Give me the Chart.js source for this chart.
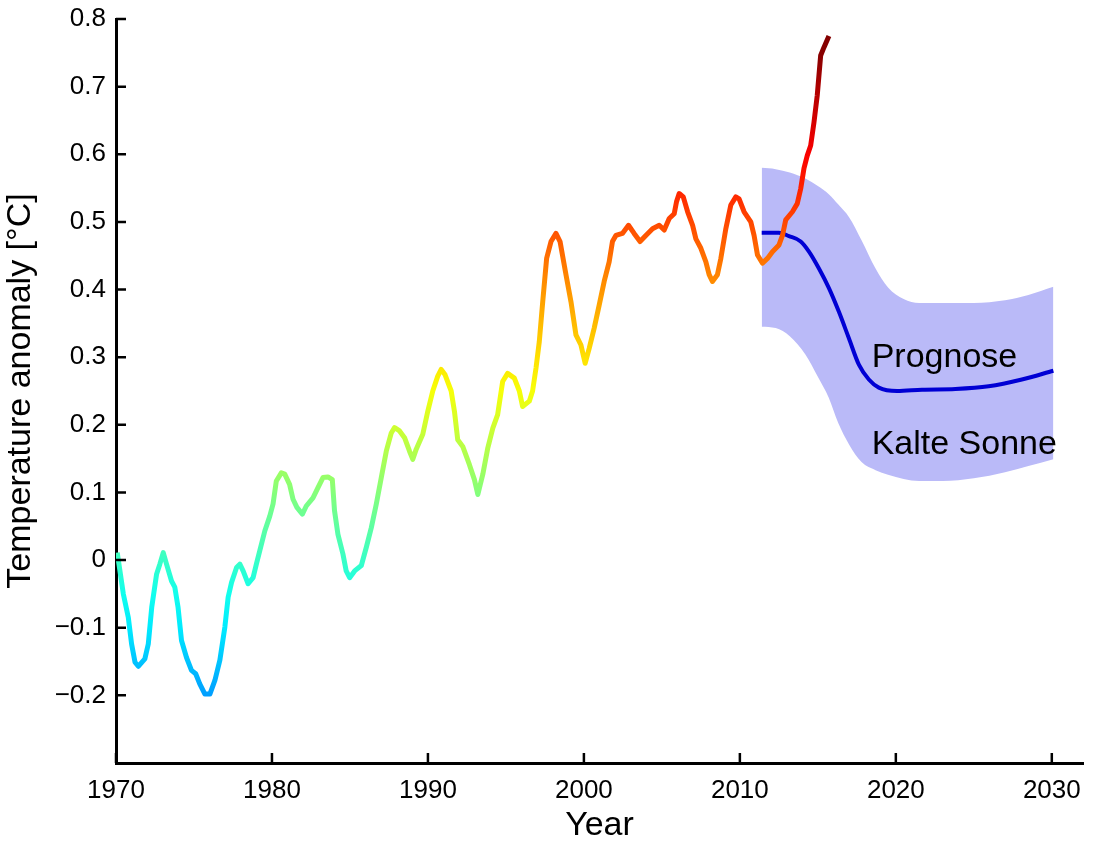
<!DOCTYPE html>
<html>
<head>
<meta charset="utf-8">
<script src="https://cdn.jsdelivr.net/npm/chart.js@4.4.1/dist/chart.umd.min.js"></script>
<style>
    html, body { margin: 0; padding: 0; background: #fff; }
    #wrap { width: 1095px; height: 846px; }
</style>
</head>
<body>
<div id="wrap"><canvas id="tempChart"></canvas></div>
<script>
const tempYears = [
    1970.08, 1970.47, 1970.79, 1971.0, 1971.22, 1971.43, 1971.85, 1972.07, 1972.29, 1972.6,
    1972.81, 1973.03, 1973.24, 1973.56, 1973.77, 1973.98, 1974.2, 1974.52, 1974.84, 1975.11,
    1975.37, 1975.7, 1976.02, 1976.34, 1976.66, 1976.98, 1977.19, 1977.41, 1977.73, 1977.94,
    1978.15, 1978.47, 1978.79, 1979.0, 1979.22, 1979.54, 1979.86, 1980.07, 1980.28, 1980.6,
    1980.82, 1981.13, 1981.35, 1981.6, 1981.95, 1982.2, 1982.63, 1982.95, 1983.27, 1983.59,
    1983.87, 1984.01, 1984.23, 1984.55, 1984.76, 1984.98, 1985.3, 1985.73, 1986.05, 1986.37,
    1986.69, 1987.01, 1987.33, 1987.65, 1987.86, 1988.18, 1988.5, 1988.82, 1989.03, 1989.25,
    1989.67, 1989.99, 1990.31, 1990.63, 1990.85, 1991.1, 1991.49, 1991.7, 1991.91, 1992.23,
    1992.66, 1992.98, 1993.2, 1993.52, 1993.84, 1994.16, 1994.47, 1994.79, 1995.11, 1995.54,
    1995.86, 1996.07, 1996.5, 1996.71, 1996.93, 1997.14, 1997.36, 1997.61, 1997.89, 1998.21,
    1998.47, 1998.85, 1999.17, 1999.49, 1999.81, 2000.08, 2000.34, 2000.66, 2000.98, 2001.3,
    2001.62, 2001.83, 2002.05, 2002.47, 2002.86, 2003.22, 2003.6, 2003.97, 2004.4, 2004.83,
    2005.15, 2005.47, 2005.79, 2005.94, 2006.11, 2006.37, 2006.65, 2006.97, 2007.18, 2007.5,
    2007.82, 2008.03, 2008.24, 2008.56, 2008.78, 2009.1, 2009.42, 2009.74, 2009.95, 2010.27,
    2010.7, 2010.91, 2011.13, 2011.45, 2011.77, 2012.09, 2012.51, 2012.73, 2012.94, 2013.37,
    2013.68, 2013.9, 2014.11, 2014.32, 2014.54, 2014.75, 2014.96, 2015.18, 2015.39, 2015.71,
];
const tempValues = [
    0.011, -0.05, -0.085, -0.124, -0.151, -0.157, -0.146, -0.124, -0.07, -0.021,
    -0.006, 0.011, -0.006, -0.031, -0.04, -0.07, -0.119, -0.144, -0.163, -0.168,
    -0.183, -0.198, -0.198, -0.178, -0.148, -0.099, -0.055, -0.033, -0.011, -0.006,
    -0.016, -0.035, -0.026, -0.006, 0.014, 0.043, 0.065, 0.083, 0.117, 0.129,
    0.127, 0.112, 0.09, 0.078, 0.068, 0.08, 0.092, 0.107, 0.122, 0.123,
    0.119, 0.073, 0.038, 0.009, -0.016, -0.026, -0.016, -0.008, 0.019, 0.048,
    0.083, 0.122, 0.161, 0.188, 0.196, 0.191, 0.181, 0.161, 0.149, 0.164,
    0.186, 0.22, 0.25, 0.272, 0.282, 0.274, 0.25, 0.22, 0.178, 0.168,
    0.141, 0.119, 0.097, 0.127, 0.166, 0.195, 0.215, 0.264, 0.276, 0.269,
    0.25, 0.227, 0.235, 0.25, 0.284, 0.323, 0.382, 0.446, 0.471, 0.483,
    0.471, 0.422, 0.382, 0.333, 0.318, 0.291, 0.313, 0.343, 0.377, 0.412,
    0.441, 0.471, 0.48, 0.483, 0.495, 0.483, 0.471, 0.48, 0.49, 0.495,
    0.488, 0.505, 0.512, 0.53, 0.542, 0.537, 0.515, 0.495, 0.475, 0.461,
    0.441, 0.422, 0.412, 0.422, 0.446, 0.49, 0.525, 0.537, 0.534, 0.515,
    0.5, 0.48, 0.451, 0.439, 0.446, 0.456, 0.466, 0.48, 0.503, 0.515,
    0.527, 0.549, 0.579, 0.598, 0.613, 0.647, 0.687, 0.746, 0.758, 0.775,
];

// "Kalte Sonne" forecast
const progYears = [
    2011.4, 2012.5, 2013.15, 2013.9, 2014.43, 2015.07, 2015.71, 2016.35, 2016.99,
    2017.63, 2018.27, 2018.91, 2020.08, 2021.68, 2023.82, 2025.95, 2028.08, 2030.1,
];
const progValues = [
    0.484, 0.484, 0.479, 0.471, 0.456, 0.431, 0.402, 0.367, 0.328,
    0.289, 0.267, 0.255, 0.25, 0.252, 0.253, 0.257, 0.267, 0.28,
];

// uncertainty band
const bandYears = [
    2011.4, 2012.3, 2013.2, 2014.2, 2015.0, 2015.7, 2016.3, 2017.0, 2017.8,
    2018.7, 2019.5, 2020.5, 2021.5, 2023.0, 2025.0, 2027.0, 2028.5, 2030.1,
];
const bandUpper = [
    0.58, 0.578, 0.573, 0.564, 0.553, 0.541, 0.526, 0.507, 0.473,
    0.431, 0.403, 0.386, 0.38, 0.38, 0.38, 0.384, 0.392, 0.404,
];
const bandLower = [
    0.345, 0.343, 0.331, 0.304, 0.271, 0.24, 0.203, 0.171, 0.145,
    0.133, 0.126, 0.12, 0.117, 0.117, 0.121, 0.13, 0.139, 0.149,
];

const xTickValues = [1970, 1980, 1990, 2000, 2010, 2020, 2030];
const yTickValues = [-0.2, -0.1, 0, 0.1, 0.2, 0.3, 0.4, 0.5, 0.6, 0.7, 0.8];
const yTickLabels = ["\u22120.2", "\u22120.1", "0", "0.1", "0.2", "0.3", "0.4", "0.5", "0.6", "0.7", "0.8"];

const noteTexts = ["Prognose", "Kalte Sonne"];
const noteYears = [2018.45, 2018.45];
const noteValues = [0.286, 0.157];

const FONT = "'Liberation Sans', Arial, sans-serif";
Chart.defaults.font.family = FONT;
Chart.defaults.color = "#000";

// jet colour map
function jet(t) {
    t = Math.min(1, Math.max(0, t));
    const c = (v) => Math.round(255 * Math.min(1, Math.max(0, v)));
    return "rgb(" + c(1.5 - Math.abs(4 * t - 3)) + "," + c(1.5 - Math.abs(4 * t - 2)) + "," + c(1.5 - Math.abs(4 * t - 1)) + ")";
}

function tempGradient(context) {
    const chart = context.chart;
    const { ctx, chartArea, scales } = chart;
    if (!chartArea) return "#000";
    const yLo = scales.y.getPixelForValue(-0.3);
    const yHi = scales.y.getPixelForValue(0.8);
    const g = ctx.createLinearGradient(0, yLo, 0, yHi);
    for (let i = 0; i <= 22; i++) {
        const v = -0.3 + i * 0.05;
        g.addColorStop(i / 22, jet(0.43 + 0.75 * v));
    }
    return g;
}

const toPoints = (xs, ys) => xs.map((x, i) => ({ x: x, y: ys[i] }));

// inward tick marks and the two text notes
const extras = {
    id: "extras",
    afterDraw(chart) {
        const { ctx, chartArea, scales } = chart;
        ctx.save();
        ctx.strokeStyle = "#000";
        ctx.lineWidth = 2.5;
        ctx.beginPath();
        yTickValues.forEach((v) => {
            const y = scales.y.getPixelForValue(v);
            ctx.moveTo(chartArea.left, y);
            ctx.lineTo(chartArea.left + 10, y);
        });
        xTickValues.forEach((v) => {
            const x = scales.x.getPixelForValue(v);
            ctx.moveTo(x, chartArea.bottom);
            ctx.lineTo(x, chartArea.bottom - 10);
        });
        ctx.stroke();

        ctx.fillStyle = "#000";
        ctx.font = "34px " + FONT;
        ctx.textAlign = "left";
        ctx.textBaseline = "alphabetic";
        noteTexts.forEach((txt, i) => {
            ctx.fillText(txt, scales.x.getPixelForValue(noteYears[i]), scales.y.getPixelForValue(noteValues[i]));
        });
        ctx.restore();
    },
};

new Chart(document.getElementById("tempChart"), {
    type: "line",
    data: {
        datasets: [
            {
                label: "Temperatur",
                data: toPoints(tempYears, tempValues),
                borderColor: tempGradient,
                borderWidth: 5,
                borderJoinStyle: "round",
                pointRadius: 0,
                tension: 0,
                fill: false,
                order: 0,
            },
            {
                label: "Prognose",
                data: toPoints(progYears, progValues),
                borderColor: "#0000d4",
                borderWidth: 4,
                pointRadius: 0,
                cubicInterpolationMode: "monotone",
                fill: false,
                order: 1,
            },
            {
                label: "Band oben",
                data: toPoints(bandYears, bandUpper),
                borderColor: "transparent",
                borderWidth: 0,
                backgroundColor: "rgb(186,186,248)",
                pointRadius: 0,
                cubicInterpolationMode: "monotone",
                fill: "+1",
                order: 2,
            },
            {
                label: "Band unten",
                data: toPoints(bandYears, bandLower),
                borderColor: "transparent",
                borderWidth: 0,
                pointRadius: 0,
                cubicInterpolationMode: "monotone",
                fill: false,
                order: 3,
            },
        ],
    },
    options: {
        responsive: true,
        maintainAspectRatio: false,
        animation: false,
        layout: { padding: { top: 19, right: 12, left: 0, bottom: 0 } },
        plugins: {
            legend: { display: false },
            tooltip: { enabled: false },
        },
        scales: {
            x: {
                type: "linear",
                min: 1970,
                max: 2032,
                afterBuildTicks: (s) => { s.ticks = xTickValues.map((v) => ({ value: v })); },
                afterFit: (s) => { s.height = 83; },
                grid: { display: false, drawTicks: false },
                border: { display: true, color: "#000", width: 3 },
                ticks: {
                    padding: 12,
                    color: "#000",
                    font: { size: 26 },
                    maxRotation: 0,
                    autoSkip: false,
                    callback: (v) => String(v),
                },
                title: {
                    display: true,
                    text: "Year",
                    color: "#000",
                    font: { size: 34 },
                    padding: { top: 0, bottom: 0 },
                },
            },
            y: {
                type: "linear",
                min: -0.3,
                max: 0.8,
                afterBuildTicks: (s) => { s.ticks = yTickValues.map((v) => ({ value: v })); },
                afterFit: (s) => {
                    s.width = 116;
                    s.paddingTop = 0;
                    s.paddingBottom = 0;
                },
                grid: { display: false, drawTicks: false },
                border: { display: true, color: "#000", width: 3 },
                ticks: {
                    padding: 10,
                    color: "#000",
                    font: { size: 26 },
                    autoSkip: false,
                    callback: (v) => {
                        const i = yTickValues.findIndex((t) => Math.abs(t - v) < 1e-6);
                        return i >= 0 ? yTickLabels[i] : "";
                    },
                },
                title: {
                    display: true,
                    text: "Temperature anomaly [°C]",
                    color: "#000",
                    font: { size: 34 },
                    padding: { top: 0, bottom: 0 },
                },
            },
        },
    },
    plugins: [extras],
});
</script>
</body>
</html>
